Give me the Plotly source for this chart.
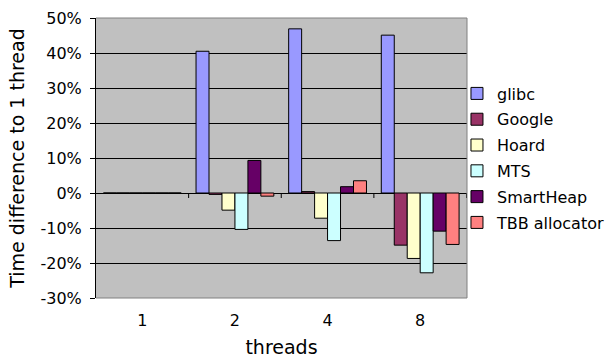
import plotly.graph_objects as go

threads = ["1", "2", "4", "8"]
series_names = ["glibc", "Google", "Hoard", "MTS", "SmartHeap", "TBB allocator"]
glibc = [0, 40.5, 46.9, 45.1]
google = [0, -0.4, 0.4, -14.9]
hoard = [0, -4.9, -7.2, -18.7]
mts = [0, -10.4, -13.6, -22.8]
smartheap = [0, 9.3, 1.8, -10.9]
tbb = [0, -0.9, 3.5, -14.7]
series_values = [glibc, google, hoard, mts, smartheap, tbb]
colors = ["#9999FF", "#993366", "#FFFFCC", "#CCFFFF", "#660066", "#FF8080"]
y_ticks = [-30, -20, -10, 0, 10, 20, 30, 40, 50]
y_tick_labels = ["-30%", "-20%", "-10%", "0%", "10%", "20%", "30%", "40%", "50%"]

FONT = "DejaVu Sans, Verdana, sans-serif"

fig = go.Figure()
for name, vals, col in zip(series_names, series_values, colors):
    fig.add_trace(go.Bar(
        x=threads, y=vals, name=name, legendgroup=name,
        marker=dict(color=col, line=dict(color="#000000", width=1)),
    ))

# category-boundary tick marks on the zero axis (between categories and at the right end)
boundary_shapes = [
    dict(type="line", xref="x", yref="y", x0=i + 0.5, x1=i + 0.5,
         ysizemode="pixel", yanchor=0, y0=0, y1=-5,
         line=dict(color="#000000", width=1), layer="above")
    for i in range(len(threads))
]

border_shapes = [
    dict(type="line", xref="x domain", yref="y domain", x0=0, x1=1, y0=1, y1=1,
         line=dict(color="#808080", width=1), layer="above"),
    dict(type="line", xref="x domain", yref="y domain", x0=1, x1=1, y0=0, y1=1,
         line=dict(color="#808080", width=1), layer="above"),
    dict(type="line", xref="x domain", yref="y domain", x0=0, x1=1, y0=0, y1=0,
         line=dict(color="#808080", width=1), layer="above"),
]

fig.update_layout(
    width=608, height=358,
    margin=dict(l=96, r=141, t=18, b=60, autoexpand=False),
    paper_bgcolor="white", plot_bgcolor="#C0C0C0",
    font=dict(family=FONT, size=16, color="black"),
    barmode="group", bargap=0.16, bargroupgap=0,
    showlegend=True,
    legend=dict(x=0.973, xanchor="left", y=0.791, yanchor="top",
                bgcolor="rgba(0,0,0,0)", tracegroupgap=2,
                font=dict(size=16, family=FONT)),
    xaxis=dict(type="category", categoryorder="array", categoryarray=threads,
               showgrid=False, showline=False, ticks="", zeroline=False,
               ticklabelstandoff=11,
               title=dict(text="threads", standoff=26)),
    yaxis=dict(range=[-30, 50], tickvals=y_ticks, ticktext=y_tick_labels,
               showgrid=True, gridcolor="black", gridwidth=1,
               zeroline=True, zerolinecolor="black", zerolinewidth=1,
               showline=True, linecolor="black", linewidth=1,
               ticks="outside", ticklen=5, tickcolor="black",
               ticklabelstandoff=5,
               title=dict(text="Time difference to 1 thread", standoff=10)),
    shapes=boundary_shapes + border_shapes,
)

fig.write_html("out.html")
